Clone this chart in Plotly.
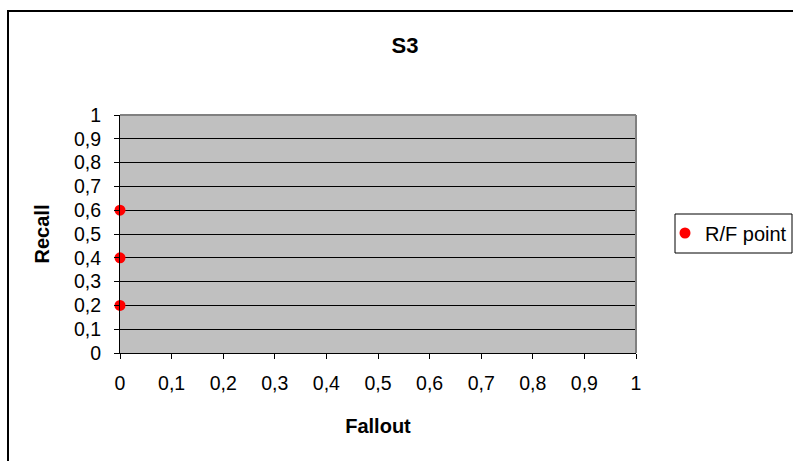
import plotly.graph_objects as go

# R/F points for S3
fallout = [0, 0, 0]
recall = [0.2, 0.4, 0.6]
tick_vals = [0, 0.1, 0.2, 0.3, 0.4, 0.5, 0.6, 0.7, 0.8, 0.9, 1]
tick_text = ["0", "0,1", "0,2", "0,3", "0,4", "0,5", "0,6", "0,7", "0,8", "0,9", "1"]

W, H = 793, 461
L, R, T, B = 120, 636, 115, 353  # plot area in pixels
pw, ph = R - L, B - T

def px(x):
    return (x - L) / pw

def py(y):
    return (B - y) / ph

FONT = "Arial, Liberation Sans, sans-serif"

fig = go.Figure()
fig.add_trace(go.Scatter(
    x=fallout, y=recall, mode="markers", name="R/F point",
    marker=dict(color="#FF0000", size=11, line=dict(width=0)),
    cliponaxis=False,
))

fig.update_layout(
    width=W, height=H,
    margin=dict(l=L, r=W - R, t=T, b=H - B, pad=0, autoexpand=False),
    paper_bgcolor="white",
    plot_bgcolor="#C0C0C0",
    font=dict(family=FONT, size=19, color="black"),
    title=dict(text="<b>S3</b>", x=px(405), xref="paper", xanchor="center",
               y=1 - 45 / H, yanchor="middle", font=dict(size=22)),
    showlegend=True,
    legend=dict(x=px(665), y=py(233), xanchor="left", yanchor="middle",
                borderwidth=0, bgcolor="rgba(0,0,0,0)",
                font=dict(size=20), itemwidth=30),
    xaxis=dict(range=[0, 1], tickvals=tick_vals, ticktext=tick_text,
               showgrid=False, zeroline=False, showline=True,
               linecolor="black", linewidth=1, ticks="outside", ticklen=5,
               tickcolor="black", tickfont=dict(size=19.5), ticklabelstandoff=8,
               title=dict(text="<b>Fallout</b>", font=dict(size=20), standoff=25)),
    yaxis=dict(range=[0, 1], tickvals=tick_vals, ticktext=tick_text,
               showgrid=True, gridcolor="black", gridwidth=1, zeroline=False,
               showline=True, linecolor="black", linewidth=1,
               ticks="outside", ticklen=5, tickcolor="black",
               tickfont=dict(size=19.5), ticklabelstandoff=9,
               title=dict(text="<b>Recall</b>", font=dict(size=20), standoff=18)),
    shapes=[
        # gray frame on top and right of the plot area
        dict(type="line", xref="paper", yref="paper", x0=0, x1=1, y0=1, y1=1,
             line=dict(color="#808080", width=2)),
        dict(type="line", xref="paper", yref="paper", x0=1, x1=1, y0=0, y1=1,
             line=dict(color="#808080", width=2)),
        # chart border
        dict(type="rect", xref="paper", yref="paper",
             x0=px(8), x1=px(805), y0=py(475), y1=py(11),
             line=dict(color="black", width=2), fillcolor="rgba(0,0,0,0)",
             layer="below"),
        # legend box
        dict(type="rect", xref="paper", yref="paper",
             x0=px(675), x1=px(792), y0=py(253), y1=py(214),
             line=dict(color="black", width=1), fillcolor="white",
             layer="below"),
    ],
)

fig.write_html("out.html")
